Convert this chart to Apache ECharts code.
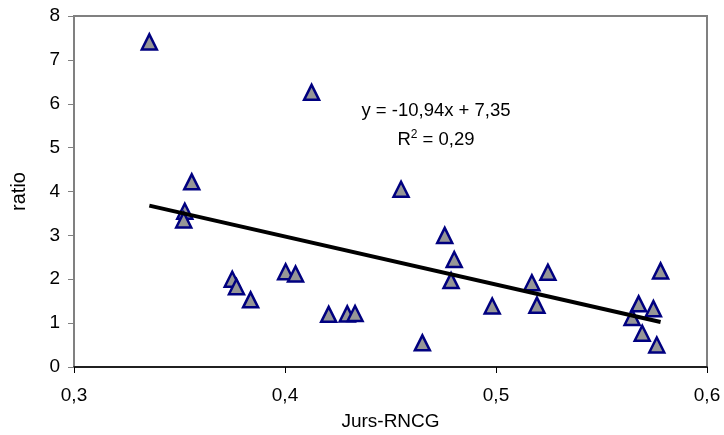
<!DOCTYPE html>
<html>
<head>
<meta charset="utf-8">
<script src="https://cdn.jsdelivr.net/npm/echarts@6/dist/echarts.min.js"></script>
<style>
html,body{margin:0;padding:0;background:#fff;}
#c{width:724px;height:435px;}
</style>
</head>
<body>
<div id="c"></div>
<script>
// Data
var jursRNCG = [0.3357, 0.3558, 0.3525, 0.3520, 0.3750, 0.3770, 0.3837,
  0.4003, 0.4050, 0.4207, 0.4295, 0.4332, 0.4126,
  0.4550, 0.4757, 0.4802, 0.4787, 0.4982, 0.4651, 0.5170, 0.5194,
  0.5246, 0.5780, 0.5676, 0.5746, 0.5645, 0.5693, 0.5762];
var ratio = [7.41, 4.22, 3.55, 3.35, 2.00, 1.83, 1.53,
  2.17, 2.12, 1.20, 1.21, 1.22, 6.26,
  4.05, 3.00, 2.45, 1.97, 1.39, 0.55, 1.92, 1.41,
  2.16, 2.19, 1.44, 1.33, 1.13, 0.77, 0.50];
// Trend line as printed on the chart
var trendSlope = -10.94;
var trendIntercept = 7.35;
var equationText = 'y = -10,94x + 7,35';
var r2Text = '0,29';
var xTicks = [0.3, 0.4, 0.5, 0.6];
var yTicks = [0, 1, 2, 3, 4, 5, 6, 7, 8];

var points = jursRNCG.map(function (x, i) { return [x, ratio[i]]; });
var xMin = Math.min.apply(null, jursRNCG);
var xMax = Math.max.apply(null, jursRNCG);
var trend = [[xMin, trendSlope * xMin + trendIntercept], [xMax, trendSlope * xMax + trendIntercept]];

var FONT = '"Liberation Sans", Arial, sans-serif';
var chart = echarts.init(document.getElementById('c'), null, {renderer: 'canvas'});
chart.setOption({
  animation: false,
  backgroundColor: '#fff',
  grid: {
    left: 74, right: 17, top: 16, bottom: 68,
    show: true, borderColor: '#808080', borderWidth: 2,
    containLabel: false, outerBoundsMode: 'none'
  },
  xAxis: {
    type: 'value',
    min: xTicks[0], max: xTicks[xTicks.length - 1], interval: 0.1,
    name: 'Jurs-RNCG', nameLocation: 'middle', nameGap: 45,
    nameTextStyle: {color: '#000', fontFamily: FONT, fontSize: 19},
    axisLine: {show: true, onZero: false, lineStyle: {color: '#000', width: 1.5}},
    axisTick: {show: true, length: 6, lineStyle: {color: '#000', width: 1}},
    axisLabel: {color: '#000', fontFamily: FONT, fontSize: 19, margin: 19,
      formatter: function (v) { return v.toFixed(1).replace('.', ','); }},
    splitLine: {show: false}
  },
  yAxis: {
    type: 'value',
    min: yTicks[0], max: yTicks[yTicks.length - 1], interval: 1,
    name: 'ratio', nameLocation: 'middle', nameGap: 45, nameRotate: 90,
    nameTextStyle: {color: '#000', fontFamily: FONT, fontSize: 20},
    axisLine: {show: true, onZero: false, lineStyle: {color: '#808080', width: 2}},
    axisTick: {show: true, length: 6, lineStyle: {color: '#808080', width: 1}},
    axisLabel: {color: '#000', fontFamily: FONT, fontSize: 19, margin: 14},
    splitLine: {show: false}
  },
  series: [
    {
      type: 'scatter',
      data: points,
      symbol: 'triangle',
      symbolSize: 15,
      itemStyle: {color: '#969696', borderColor: '#000080', borderWidth: 2.5, opacity: 1},
      z: 2
    },
    {
      type: 'line',
      data: trend,
      symbol: 'none',
      lineStyle: {color: '#000', width: 4},
      z: 3
    }
  ],
  graphic: [
    {
      type: 'text', x: 436, y: 111, z: 10,
      style: {text: equationText, fill: '#000', fontSize: 18.5, fontFamily: FONT,
        align: 'center', verticalAlign: 'middle'}
    },
    {
      type: 'text', x: 436, y: 140, z: 10,
      style: {
        text: 'R{sup|2} = ' + r2Text, fill: '#000', fontSize: 18.5, fontFamily: FONT,
        align: 'center', verticalAlign: 'middle',
        rich: {sup: {fontSize: 12, fontFamily: FONT, fill: '#000', verticalAlign: 'top', padding: [0, 0, 10, 0]}}
      }
    }
  ]
});
</script>
</body>
</html>
